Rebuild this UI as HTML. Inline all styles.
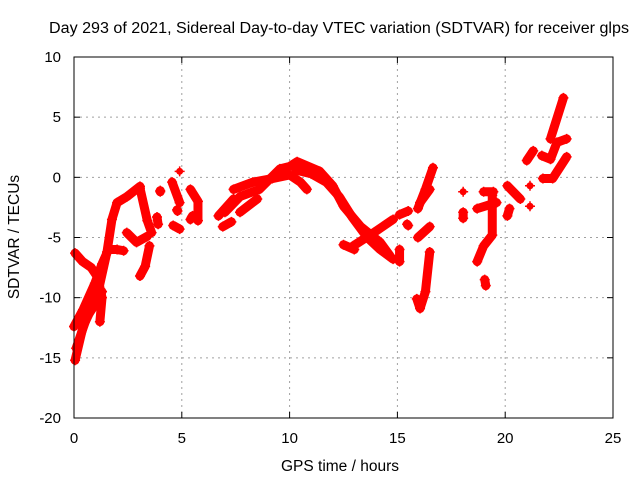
<!DOCTYPE html>
<html><head><meta charset="utf-8"><style>
body{margin:0;background:#fff}
svg{display:block;font-family:"Liberation Sans",sans-serif}
</style></head><body>
<svg id="chart" width="640" height="480">
<text x="339" y="33" font-size="15.5" text-anchor="middle" textLength="580" lengthAdjust="spacingAndGlyphs">Day 293 of 2021, Sidereal Day-to-day VTEC variation (SDTVAR) for receiver glps</text>
<g id="grid"></g>
<g id="ticks"></g>
<g id="series"></g>
<rect x="74" y="57" width="539" height="361" fill="none" stroke="#000" stroke-width="1"/>
<text x="340" y="471" font-size="15.5" text-anchor="middle">GPS time / hours</text>
<text transform="translate(19,237) rotate(-90)" font-size="15.5" text-anchor="middle">SDTVAR / TECUs</text>
</svg>
<script>
const xTicks=[0,5,10,15,20,25];
const yTicks=[-20,-15,-10,-5,0,5,10];
const tracks=[
[[0.05,-15.2],[0.42,-12.4],[1.07,-9.9],[1.53,-6.2],[1.76,-3.5],[2.0,-2.1],[2.46,-1.6],[3.06,-0.75]],
[[0.0,-12.4],[0.42,-11.0],[0.97,-8.8],[1.3,-7.2],[1.6,-6.0]],
[[0.05,-6.3],[0.4,-7.0],[0.8,-7.5],[1.1,-8.3],[1.3,-10],[1.2,-12]],
[[0.1,-14.2],[0.6,-11.6],[1.0,-10.5],[1.3,-9.5]],
[[1.6,-6.0],[2.0,-6.0],[2.3,-6.1]],
[[3.06,-0.9],[3.4,-3.6],[3.6,-4.6]],
[[2.45,-4.6],[2.9,-5.4],[3.4,-4.9]],
[[3.5,-5.7],[3.3,-7.4],[3.06,-8.2]],
[[4.0,-1.1],[4.0,-1.2]],
[[3.85,-3.3],[3.9,-3.9]],
[[4.55,-0.4],[4.9,-2.1]],
[[4.78,-2.7],[4.8,-2.8]],
[[4.6,-4.0],[4.9,-4.3]],
[[4.9,0.5]],
[[5.4,-1.0],[5.75,-2.0],[5.75,-3.6]],
[[5.4,-3.5],[5.5,-3.2]],
[[6.7,-3.2],[7.4,-1.8]],
[[6.9,-4.1],[7.3,-3.7]],
[[7.7,-2.9],[8.5,-1.8]],
[[7.0,-2.9],[7.7,-1.6],[8.6,-1.0],[9.55,0.7],[10.0,0.9],[10.35,1.3],[11.4,0.5],[12.0,-0.7],[12.5,-2.4],[13.3,-4.1],[14.2,-5.4],[14.65,-6.5]],
[[7.4,-1.0],[8.3,-0.4],[9.2,-0.1],[10.0,0.2],[10.5,-0.4],[10.8,-1.0]],
[[10.3,0.6],[11.0,0.3],[11.7,-0.4],[12.3,-1.6],[12.9,-3.3],[13.6,-5.0],[14.2,-6.0],[14.8,-6.8]],
[[12.95,-5.7],[13.9,-4.6],[14.8,-3.5]],
[[12.5,-5.6],[13.0,-6.0]],
[[15.1,-6.0],[15.1,-7.0]],
[[15.1,-3.1],[15.5,-2.8]],
[[15.45,-3.9],[15.5,-4.0]],
[[15.95,-2.6],[16.3,-1.0],[16.65,0.8]],
[[16.05,-2.1],[16.5,-1.0]],
[[15.95,-5.0],[16.5,-4.1]],
[[16.5,-6.2],[16.3,-9.5],[16.05,-10.9],[15.9,-10.1]],
[[18.05,-1.2]],
[[18.05,-2.9],[18.05,-3.4]],
[[18.7,-2.6],[19.6,-2.1]],
[[19.0,-1.2],[19.45,-1.2]],
[[19.4,-1.5],[19.4,-4.8],[19.0,-5.7],[18.7,-7.0]],
[[19.05,-8.5],[19.1,-9.0]],
[[20.1,-0.7],[20.7,-1.8]],
[[20.1,-3.2],[20.2,-2.6]],
[[21.15,-0.7]],
[[21.15,-2.4]],
[[21.0,1.4],[21.3,2.2]],
[[21.7,1.8],[22.1,1.5],[22.4,2.9],[22.85,3.2]],
[[22.1,3.2],[22.7,6.6]],
[[21.75,-0.1],[22.2,-0.1],[22.85,1.7]]
];
const X=t=>74+t*539/25;
const Y=v=>418-(v+20)*361/30;
const NS="http://www.w3.org/2000/svg";
const grid=document.getElementById('grid'),ticks=document.getElementById('ticks'),ser=document.getElementById('series');
function mk(tag,attrs,parent){const e=document.createElementNS(NS,tag);for(const k in attrs)e.setAttribute(k,attrs[k]);parent.appendChild(e);return e;}
xTicks.forEach(t=>{
 if(t>0&&t<25){const g=mk('line',{x1:X(t),x2:X(t),y1:57,y2:418,stroke:'#a0a0a0','stroke-dasharray':'2,4'},grid);
 
 }
 mk('line',{x1:X(t),x2:X(t),y1:418,y2:412,stroke:'#000'},ticks);
 mk('line',{x1:X(t),x2:X(t),y1:57,y2:63,stroke:'#000'},ticks);
 const l=mk('text',{x:X(t),y:443,'font-size':15,'text-anchor':'middle'},ticks);l.textContent=t;
 
 
});
yTicks.forEach(v=>{
 if(v>-20&&v<10){const g=mk('line',{x1:74,x2:613,y1:Y(v),y2:Y(v),stroke:'#a0a0a0','stroke-dasharray':'2,4'},grid);
 
 }
 mk('line',{x1:74,x2:80,y1:Y(v),y2:Y(v),stroke:'#000'},ticks);
 mk('line',{x1:613,x2:607,y1:Y(v),y2:Y(v),stroke:'#000'},ticks);
 const l=mk('text',{x:61,y:Y(v)+5,'font-size':15,'text-anchor':'end'},ticks);l.textContent=v;
 
 
});
tracks.forEach((tr,i)=>{
 if(tr.length>1){
  const pts=tr.map(p=>X(p[0])+','+Y(p[1])).join(' ');
  const pl=mk('polyline',{points:pts,fill:'none',stroke:'#ff0000','stroke-width':9,'stroke-linecap':'round','stroke-linejoin':'round'},ser);
  
  
 }
 tr.forEach(p=>{
  const x=X(p[0]),y=Y(p[1]);
  const c=mk('circle',{cx:x,cy:y,r:3.5,fill:'#ff0000'},ser);
  
  
  const m=mk('path',{d:`M${x-5},${y}h10M${x},${y-5}v10`,stroke:'#ff0000','stroke-width':1.5},ser);
  
  
 });
});
</script>
</body></html>
